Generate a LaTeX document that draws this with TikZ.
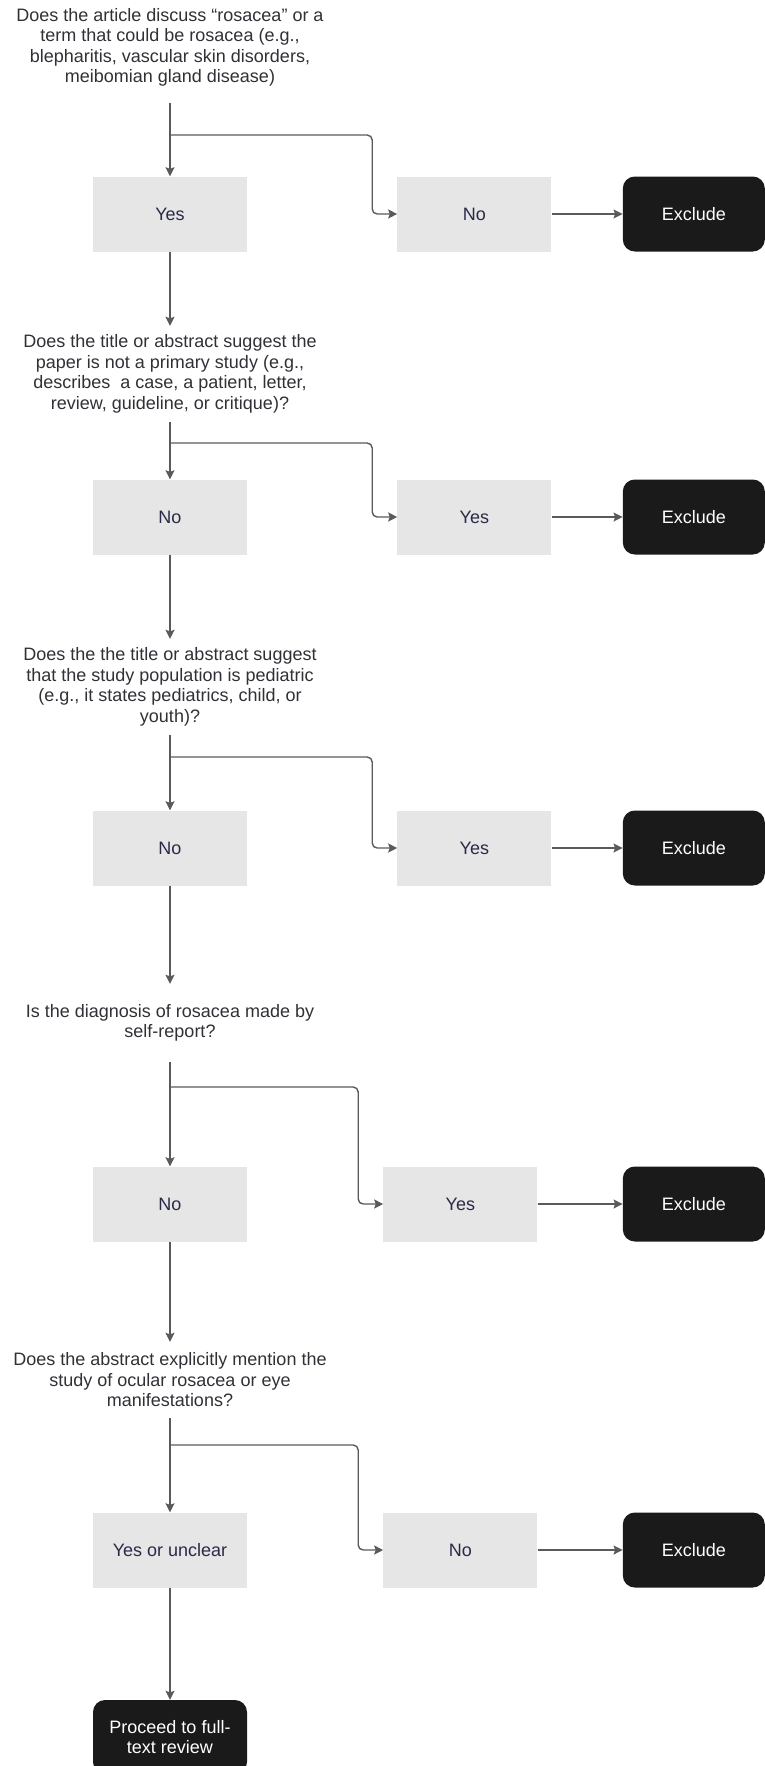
\documentclass[tikz,border=0pt]{standalone}
\usepackage{fontspec}
\setmainfont{Liberation Sans}
\usetikzlibrary{positioning,arrows.meta}
\definecolor{boxgray}{HTML}{E6E6E6}
\definecolor{darkbox}{HTML}{1A1A1A}
\definecolor{linegray}{HTML}{5A5A5A}
\definecolor{labelblue}{HTML}{2A2A48}
\definecolor{qtext}{HTML}{303036}
\begin{document}
\begin{tikzpicture}[x=1pt, y=-1pt, >={Stealth[length=9pt,width=9pt,inset=1.5pt]},
    font=\fontsize{18}{20.5}\selectfont,
    ques/.style={align=center, text=qtext, inner sep=0pt},
    choice/.style={fill=boxgray, text=labelblue, minimum width=154pt, minimum height=75pt, inner sep=0pt},
    endbox/.style={fill=darkbox, text=white, rounded corners=12pt, minimum width=142pt, minimum height=75pt, align=center, inner sep=0pt},
    link/.style={draw=linegray, line width=1.4pt}]
        \useasboundingbox (0,0) rectangle (764,1766);

        % 问题
        \node[ques, minimum height=111pt] (q1) at (170,47.5) {Does the article discuss “rosacea” or a\\term that could be rosacea (e.g.,\\blepharitis, vascular skin disorders,\\meibomian gland disease)};
        \node[ques, minimum height=96pt] (q2) at (170,374) {Does the title or abstract suggest the\\paper is not a primary study (e.g.,\\describes\ \ a case, a patient, letter,\\review, guideline, or critique)?};
        \node[ques, minimum height=96pt] (q3) at (170,687) {Does the the title or abstract suggest\\that the study population is pediatric\\(e.g., it states pediatrics, child, or\\youth)?};
        \node[ques, minimum height=78pt] (q4) at (170,1023) {Is the diagnosis of rosacea made by\\self-report?};
        \node[ques, minimum height=76pt] (q5) at (170,1380) {Does the abstract explicitly mention the\\study of ocular rosacea or eye\\manifestations?};

        % 回答
        \node[choice] (l1) at (170,214) {Yes};
        \node[choice, right=150pt of l1] (r1) {No};
        \node[endbox, right=71pt of r1] (e1) {Exclude};

        \node[choice] (l2) at (170,517) {No};
        \node[choice, right=150pt of l2] (r2) {Yes};
        \node[endbox, right=71pt of r2] (e2) {Exclude};

        \node[choice] (l3) at (170,848) {No};
        \node[choice, right=150pt of l3] (r3) {Yes};
        \node[endbox, right=71pt of r3] (e3) {Exclude};

        \node[choice] (l4) at (170,1204) {No};
        \node[choice, right=136pt of l4] (r4) {Yes};
        \node[endbox, right=85pt of r4] (e4) {Exclude};

        \node[choice] (l5) at (170,1550) {Yes or unclear};
        \node[choice, right=136pt of l5] (r5) {No};
        \node[endbox, right=85pt of r5] (e5) {Exclude};

        \node[endbox, minimum width=154pt, minimum height=74pt] (fin) at (170,1737) {Proceed to full-\\text review};

        % 分支点
        \coordinate (b1) at (170,135);
        \coordinate (b2) at (170,443);
        \coordinate (b3) at (170,757);
        \coordinate (b4) at (170,1087);
        \coordinate (b5) at (170,1445);

        % 连线
        \draw[link, ->] (q1) -- (l1);
        \draw[link, ->, rounded corners=5pt] (b1) -| ([xshift=-25pt]r1.west) -- (r1);
        \draw[link, ->] (r1) -- (e1);
        \draw[link, ->] (l1) -- (q2);

        \draw[link, ->] (q2) -- (l2);
        \draw[link, ->, rounded corners=5pt] (b2) -| ([xshift=-25pt]r2.west) -- (r2);
        \draw[link, ->] (r2) -- (e2);
        \draw[link, ->] (l2) -- (q3);

        \draw[link, ->] (q3) -- (l3);
        \draw[link, ->, rounded corners=5pt] (b3) -| ([xshift=-25pt]r3.west) -- (r3);
        \draw[link, ->] (r3) -- (e3);
        \draw[link, ->] (l3) -- (q4);

        \draw[link, ->] (q4) -- (l4);
        \draw[link, ->, rounded corners=5pt] (b4) -| ([xshift=-25pt]r4.west) -- (r4);
        \draw[link, ->] (r4) -- (e4);
        \draw[link, ->] (l4) -- (q5);

        \draw[link, ->] (q5) -- (l5);
        \draw[link, ->, rounded corners=5pt] (b5) -| ([xshift=-25pt]r5.west) -- (r5);
        \draw[link, ->] (r5) -- (e5);
        \draw[link, ->] (l5) -- (fin);
    \end{tikzpicture}
\end{document}
